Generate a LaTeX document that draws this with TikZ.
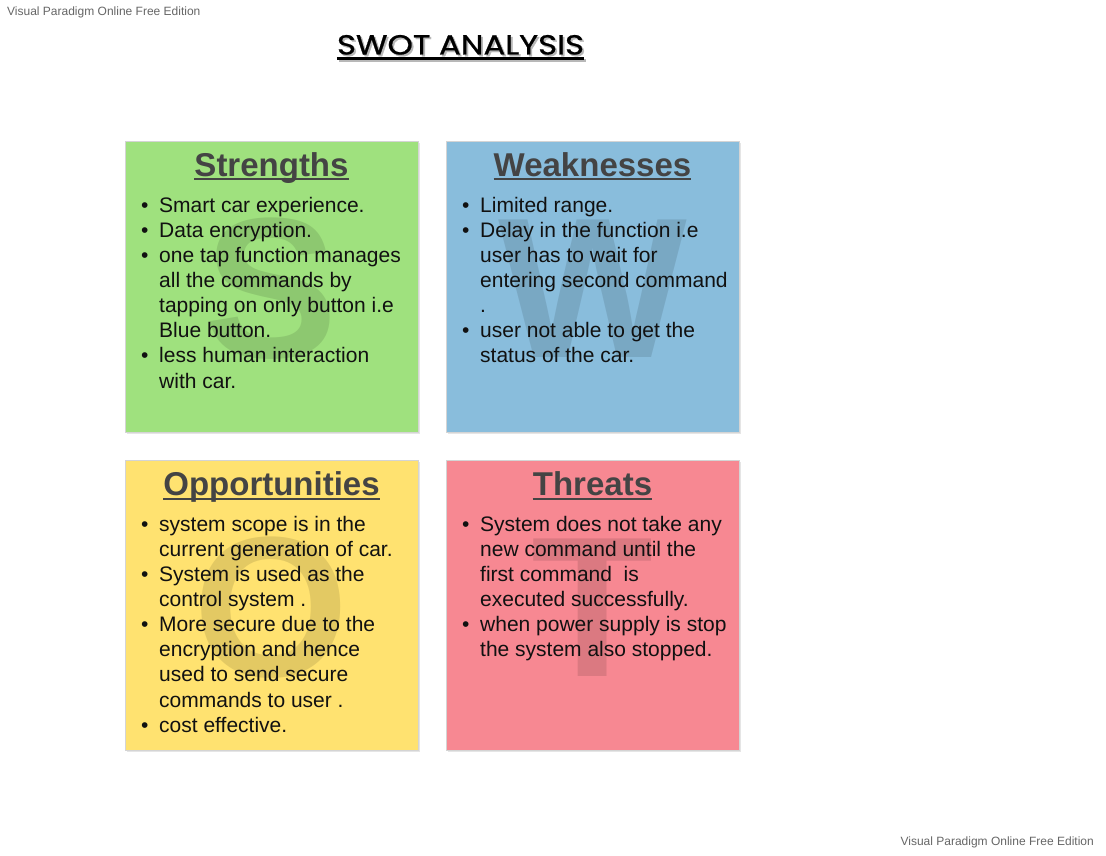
\documentclass[tikz,border=0pt]{standalone}
\usepackage{fontspec}
\setmainfont{Liberation Sans}
\newfontfamily\titlefont{Poppins}[FakeBold=0.8]
\definecolor{sgreen}{RGB}{159,225,126}
\definecolor{wblue}{RGB}{137,189,220}
\definecolor{oyellow}{RGB}{255,226,112}
\definecolor{tred}{RGB}{247,136,146}
\definecolor{headc}{RGB}{68,68,68}
\definecolor{bodyc}{RGB}{17,17,17}
\newcommand\mkb{\makebox[18pt][l]{\textbullet}}
\newcommand\mkc{\hspace*{18pt}}
\newcommand\swottitle{\resizebox{247pt}{19.5pt}{\titlefont SWOT ANALYSIS}}
\begin{document}
\begin{tikzpicture}[x=1pt,y=-1pt,
  box/.style={draw=black!17, line width=0.6pt, minimum width=293pt, minimum height=291pt, anchor=north west, inner sep=0},
  shade/.style={fill=black!10},
  head/.style={inner sep=0, anchor=base, text=headc, font=\fontsize{33}{40}\selectfont\bfseries},
  uline/.style={headc, line width=2pt},
  wm/.style={inner sep=0, anchor=base, text=black, text opacity=0.11, font=\fontsize{200}{200}\selectfont\bfseries},
  bodyline/.style={inner sep=0, anchor=base west, text=bodyc, font=\fontsize{21}{25}\selectfont},
  corner/.style={inner sep=0, text=black!60, font=\fontsize{12}{14}\selectfont}]
\useasboundingbox[fill=white] (0,0) rectangle (1106,856);
% corner notes
\node[corner, anchor=base west] (vp1) at (7,16) {Visual Paradigm Online Free Edition};
\node[corner, anchor=base east] (vp2) at (1094,845) {Visual Paradigm Online Free Edition};
% title
\node[inner sep=0, anchor=base, text=black!28] (titleshadow) at (462.3,56.3) {\swottitle};
\draw[black!28, line width=2.6pt] ([yshift=-4.3pt]titleshadow.base west) -- ([yshift=-4.3pt]titleshadow.base east);
\node[inner sep=0, anchor=base, text=black] (title) at (460.5,54.5) {\swottitle};
\draw[black, line width=2.6pt] ([yshift=-4.3pt]title.base west) -- ([yshift=-4.3pt]title.base east);
% shadows
\fill[shade] (127,143) rectangle (420,434);
\fill[shade] (448,143) rectangle (741,434);
\fill[shade] (127,462) rectangle (420,752);
\fill[shade] (448,462) rectangle (741,752);
% boxes
\node[box, fill=sgreen] (bS) at (125,141) {};
\node[box, fill=wblue] (bW) at (446,141) {};
\node[box, fill=oyellow, minimum height=290pt] (bO) at (125,460) {};
\node[box, fill=tred, minimum height=290pt] (bT) at (446,460) {};
% big letters
\node[wm] (wS) at (271.5,357) {S};
\node[wm] (wW) at (592.5,357) {W};
\node[wm] (wO) at (271.5,676) {O};
\node[wm] (wT) at (592.5,676) {T};
% headings
\node[head] (hS) at (271.5,176.5) {Strengths};
\node[head] (hW) at (592.5,176.5) {Weaknesses};
\node[head] (hO) at (271.5,495.5) {Opportunities};
\node[head] (hT) at (592.5,495.5) {Threats};
\foreach \h in {hS,hW,hO,hT}
  \draw[uline] ([yshift=-3pt]\h.base west) -- ([yshift=-3pt]\h.base east);
% body text
\foreach \t [count=\i from 0] in {\mkb Smart car experience., \mkb Data encryption., \mkb one tap function manages, \mkc all the commands by, \mkc tapping on only button i.e, \mkc Blue button., \mkb less human interaction, \mkc with car.}
  \node[bodyline] (s\i) at (141,{212+25.15*\i}) {\t};
\foreach \t [count=\i from 0] in {\mkb Limited range., \mkb Delay in the function i.e, \mkc user has to wait for, \mkc entering second command, \mkc ., \mkb user not able to get the, \mkc status of the car.}
  \node[bodyline] (w\i) at (462,{212+25.15*\i}) {\t};
\foreach \t [count=\i from 0] in {\mkb system scope is in the, \mkc current generation of car., \mkb System is used as the, \mkc control system ., \mkb More secure due to the, \mkc encryption and hence, \mkc used to send secure, \mkc commands to user ., \mkb cost effective.}
  \node[bodyline] (o\i) at (141,{531+25.15*\i}) {\t};
\foreach \t [count=\i from 0] in {\mkb System does not take any, \mkc new command until the, \mkc first command~ is, \mkc executed successfully., \mkb when power supply is stop, \mkc the system also stopped.}
  \node[bodyline] (t\i) at (462,{531+25.15*\i}) {\t};
\end{tikzpicture}
\end{document}
